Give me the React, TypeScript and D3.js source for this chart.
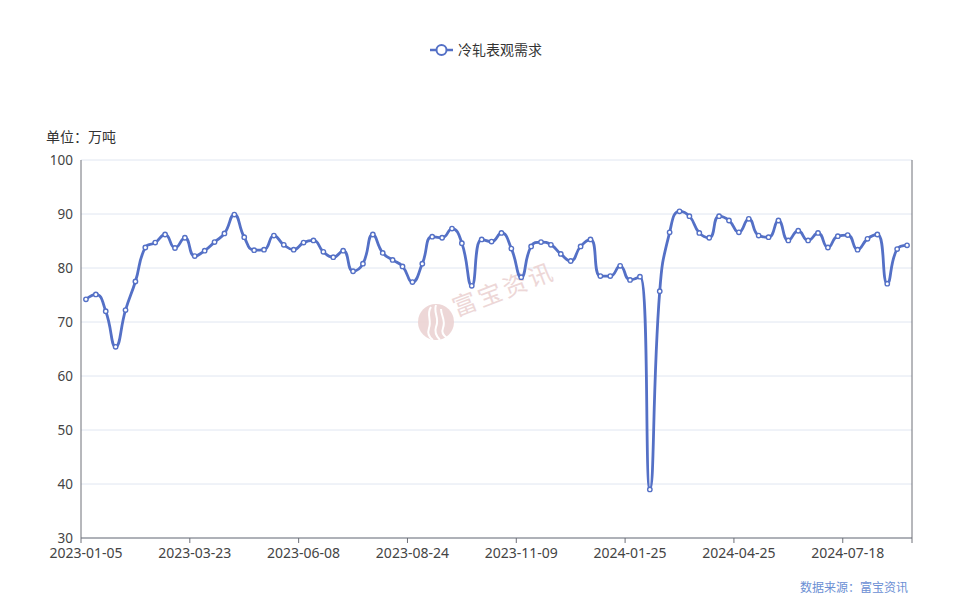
import React from "react";
import * as d3 from "d3";

const dates: string[] = [
  "2023-01-05","2023-01-12","2023-01-19","2023-01-26","2023-02-02","2023-02-09","2023-02-16","2023-02-23",
  "2023-03-02","2023-03-09","2023-03-16","2023-03-23","2023-03-30","2023-04-06","2023-04-13","2023-04-20",
  "2023-04-27","2023-05-04","2023-05-11","2023-05-18","2023-05-25","2023-06-01","2023-06-08","2023-06-15",
  "2023-06-22","2023-06-29","2023-07-06","2023-07-13","2023-07-20","2023-07-27","2023-08-03","2023-08-10",
  "2023-08-17","2023-08-24","2023-08-31","2023-09-07","2023-09-14","2023-09-21","2023-09-28","2023-10-05",
  "2023-10-12","2023-10-19","2023-10-26","2023-11-02","2023-11-09","2023-11-16","2023-11-23","2023-11-30",
  "2023-12-07","2023-12-14","2023-12-21","2023-12-28","2024-01-04","2024-01-11","2024-01-18","2024-01-25",
  "2024-02-01","2024-02-08","2024-02-22","2024-02-29","2024-03-07","2024-03-14","2024-03-21","2024-03-28",
  "2024-04-11","2024-04-18","2024-04-25","2024-05-09","2024-05-16","2024-05-23","2024-05-30","2024-06-06",
  "2024-06-13","2024-06-20","2024-06-27","2024-07-04","2024-07-11","2024-07-18","2024-07-25","2024-08-01",
  "2024-08-08","2024-08-15","2024-08-22","2024-08-29",
];

const values: number[] = [
  74.2, 75.1, 72.0, 65.4, 72.2, 77.5, 83.8, 84.7, 86.2, 83.7,
  85.6, 82.2, 83.2, 84.8, 86.4, 89.9, 85.7, 83.3, 83.4, 86.0,
  84.3, 83.4, 84.7, 85.1, 83.0, 82.0, 83.2, 79.4, 80.8, 86.2,
  82.8, 81.5, 80.3, 77.4, 80.8, 85.8, 85.6, 87.3, 84.6, 76.7,
  85.3, 84.9, 86.5, 83.6, 78.3, 84.0, 84.8, 84.3, 82.6, 81.3,
  84.0, 85.3, 78.5, 78.5, 80.4, 77.8, 78.4, 39.0, 75.7, 86.6,
  90.5, 89.6, 86.5, 85.6, 89.6, 88.8, 86.6, 89.1, 86.0, 85.7,
  88.8, 85.1, 86.9, 85.1, 86.5, 83.8, 85.9, 86.1, 83.4, 85.4,
  86.2, 77.1, 83.5, 84.2,
];

const yTicks: number[] = [30, 40, 50, 60, 70, 80, 90, 100];
const labelInterval = 11;
const seriesName = "冷轧表观需求";
const unitLabel = "单位：万吨";
const sourceLabel = "数据来源：富宝资讯";
const watermarkText = "富宝资讯";

// ECharts-like smooth curve as a d3 curve factory
function echartsSmooth(smooth: number) {
  return (context: any) => {
    let pts: [number, number][] = [];
    return {
      areaStart() {},
      areaEnd() {},
      lineStart() { pts = []; },
      point(x: number, y: number) { pts.push([+x, +y]); },
      lineEnd() {
        const n = pts.length;
        let prevX = 0, prevY = 0, cpx0 = 0, cpy0 = 0, cpx1 = 0, cpy1 = 0;
        for (let i = 0; i < n; i++) {
          const [x, y] = pts[i];
          if (i === 0) {
            context.moveTo(x, y);
            cpx0 = x; cpy0 = y;
          } else {
            let nextCpx0 = x, nextCpy0 = y;
            if (i + 1 >= n) {
              cpx1 = x; cpy1 = y;
            } else {
              const [nextX, nextY] = pts[i + 1];
              let vx = nextX - prevX;
              let vy = nextY - prevY;
              const dx0 = x - prevX, dx1 = nextX - x, dy0 = y - prevY, dy1 = nextY - y;
              const lenPrev = Math.sqrt(dx0 * dx0 + dy0 * dy0);
              const lenNext = Math.sqrt(dx1 * dx1 + dy1 * dy1);
              const ratio = lenNext / (lenNext + lenPrev);
              nextCpx0 = x + vx * smooth * ratio;
              nextCpy0 = y + vy * smooth * ratio;
              nextCpx0 = Math.min(nextCpx0, Math.max(nextX, x));
              nextCpy0 = Math.min(nextCpy0, Math.max(nextY, y));
              nextCpx0 = Math.max(nextCpx0, Math.min(nextX, x));
              nextCpy0 = Math.max(nextCpy0, Math.min(nextY, y));
              vx = nextCpx0 - x;
              vy = nextCpy0 - y;
              cpx1 = x - (vx * lenPrev) / lenNext;
              cpy1 = y - (vy * lenPrev) / lenNext;
              cpx1 = Math.min(cpx1, Math.max(prevX, x));
              cpy1 = Math.min(cpy1, Math.max(prevY, y));
              cpx1 = Math.max(cpx1, Math.min(prevX, x));
              cpy1 = Math.max(cpy1, Math.min(prevY, y));
              vx = x - cpx1;
              vy = y - cpy1;
              nextCpx0 = x + (vx * lenNext) / lenPrev;
              nextCpy0 = y + (vy * lenNext) / lenPrev;
            }
            context.bezierCurveTo(cpx0, cpy0, cpx1, cpy1, x, y);
            cpx0 = nextCpx0; cpy0 = nextCpy0;
          }
          prevX = x; prevY = y;
        }
      },
    };
  };
}

export default function App() {
  const W = 971, H = 600;
  const left = 81, right = 912, top = 160, bottom = 538;
  const color = "#5470c6";
  const font = "'Noto Sans', 'Noto Sans CJK SC', sans-serif";

  const x = d3.scaleBand<string>().domain(dates).range([left, right]).padding(0);
  const bw = x.bandwidth();
  const cx = (d: string) => (x(d) as number) + bw / 2;
  const y = d3.scaleLinear().domain([30, 100]).range([bottom, top]);

  const pts = dates.map((d, i) => ({ d, v: values[i] }));
  const line = d3
    .line<{ d: string; v: number }>()
    .x((p) => cx(p.d))
    .y((p) => y(p.v))
    .curve(echartsSmooth(0.5) as any);

  const labelIdx = dates.map((_, i) => i).filter((i) => i % labelInterval === 0);
  const tickXs = [...labelIdx.map((i) => x(dates[i]) as number), right];

  return (
    <svg
      width={W}
      height={H}
      style={{ position: "absolute", left: 0, top: 0, display: "block", background: "#fff" }}
      fontFamily={font}
    >
      {/* legend */}
      <g>
        <line x1={430} x2={453} y1={50} y2={50} stroke={color} strokeWidth={2.5} />
        <circle cx={441.5} cy={50} r={5} fill="#fff" stroke={color} strokeWidth={2} />
        <text x={458} y={55} fontSize={14} fill="#333">{seriesName}</text>
      </g>

      {/* unit */}
      <text x={46} y={142} fontSize={14} fill="#333">{unitLabel}</text>

      {/* grid */}
      {yTicks.map((t) => (
        <line key={t} x1={left} x2={right} y1={y(t)} y2={y(t)} stroke="#e0e6f1" strokeWidth={1} />
      ))}

      {/* watermark */}
      <g opacity={0.9}>
        <circle cx={436} cy={322} r={18} fill="#ecd3d3" />
        <path d="M431 307 C426 314, 432 320, 429 328 C427 334, 430 338, 433 340" stroke="#fff" strokeWidth={2} fill="none" />
        <path d="M436 305 C433 313, 440 318, 436 327 C434 333, 437 337, 440 340" stroke="#fff" strokeWidth={2} fill="none" />
        <path d="M441 309 C441 316, 446 320, 443 328 C441 333, 444 336, 447 338" stroke="#fff" strokeWidth={2} fill="none" />
        <text
          x={504}
          y={298}
          fontSize={24}
          fill="#ecd3d3"
          textAnchor="middle"
          letterSpacing={3}
          fontFamily="'Noto Sans CJK SC', sans-serif"
          transform="rotate(-21 504 290)"
        >
          {watermarkText}
        </text>
      </g>

      {/* axes */}
      <line x1={left} x2={left} y1={top} y2={bottom} stroke="#6e7079" strokeWidth={1} />
      <line x1={right} x2={right} y1={top} y2={bottom} stroke="#6e7079" strokeWidth={1} />
      <line x1={left} x2={right} y1={bottom} y2={bottom} stroke="#6e7079" strokeWidth={1} />
      {tickXs.map((tx, i) => (
        <line key={i} x1={tx} x2={tx} y1={bottom} y2={bottom + 5} stroke="#6e7079" strokeWidth={1} />
      ))}

      {yTicks.map((t) => (
        <text key={t} x={73} y={y(t) + 4.5} fontSize={13.5} fill="#444" textAnchor="end">{t}</text>
      ))}
      {labelIdx.map((i) => (
        <text key={i} x={cx(dates[i])} y={558} fontSize={14} fill="#444" textAnchor="middle">{dates[i]}</text>
      ))}

      {/* series */}
      <path d={line(pts) || ""} fill="none" stroke={color} strokeWidth={2.8} strokeLinejoin="round" />
      {pts.map((p, i) => (
        <circle key={i} cx={cx(p.d)} cy={y(p.v)} r={2.2} fill="#fff" stroke={color} strokeWidth={1.4} />
      ))}

      {/* source */}
      <text x={908} y={592} fontSize={12} fill="#6b8fd4" textAnchor="end" fontFamily="'Noto Sans CJK SC', sans-serif">
        {sourceLabel}
      </text>
    </svg>
  );
}
